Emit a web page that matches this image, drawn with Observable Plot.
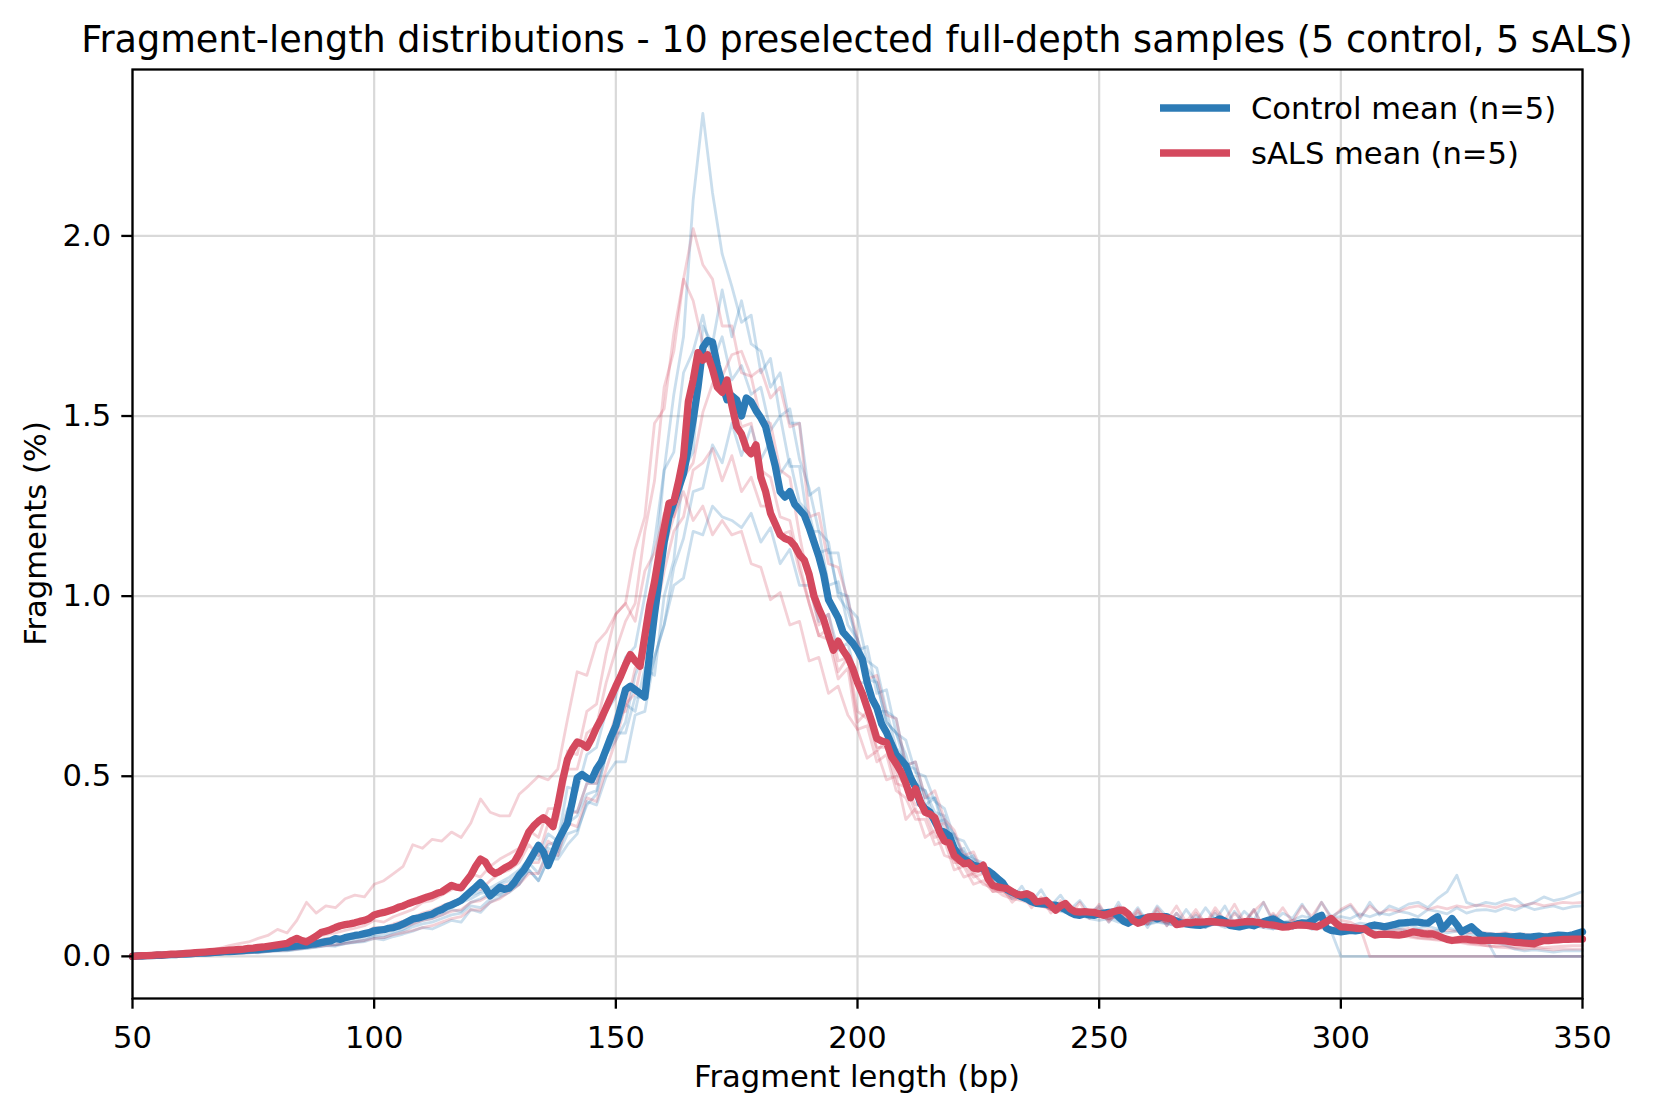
<!DOCTYPE html>
<html><head><meta charset="utf-8">
<script src="https://cdn.jsdelivr.net/npm/d3@7"></script>
<script src="https://cdn.jsdelivr.net/npm/@observablehq/plot@0.6"></script>
<style>
html,body{margin:0;padding:0;background:#fff;}
#chart svg{display:block;}
</style></head><body><div id="chart"></div>
<script>
// ---- Data (fragment length 50..350 bp) ----
// Group means, one value per bp (50..350)
const controlMean = [
0.000,0.001,0.001,0.002,0.002,0.003,0.003,0.004,0.005,0.005,
0.006,0.006,0.007,0.008,0.009,0.009,0.010,0.011,0.012,0.013,
0.013,0.014,0.015,0.016,0.017,0.018,0.019,0.020,0.021,0.022,
0.023,0.025,0.026,0.027,0.029,0.030,0.031,0.034,0.035,0.038,
0.041,0.043,0.049,0.047,0.052,0.055,0.058,0.060,0.063,0.066,
0.071,0.073,0.074,0.078,0.080,0.084,0.090,0.097,0.104,0.106,
0.110,0.114,0.117,0.125,0.130,0.138,0.143,0.149,0.156,0.168,
0.180,0.192,0.205,0.190,0.168,0.180,0.192,0.186,0.190,0.205,
0.225,0.240,0.262,0.285,0.308,0.290,0.252,0.285,0.320,0.345,
0.370,0.430,0.495,0.505,0.495,0.490,0.520,0.540,0.575,0.610,
0.640,0.690,0.740,0.750,0.740,0.730,0.720,0.840,0.950,1.050,
1.150,1.220,1.260,1.300,1.340,1.410,1.490,1.580,1.690,1.710,
1.705,1.640,1.590,1.545,1.556,1.545,1.500,1.550,1.540,1.515,
1.495,1.470,1.414,1.360,1.290,1.275,1.290,1.255,1.240,1.225,
1.190,1.150,1.110,1.060,0.990,0.965,0.940,0.900,0.885,0.870,
0.850,0.825,0.760,0.715,0.690,0.645,0.622,0.590,0.560,0.545,
0.530,0.495,0.470,0.425,0.410,0.400,0.375,0.350,0.345,0.335,
0.300,0.280,0.270,0.262,0.253,0.250,0.243,0.238,0.228,0.216,
0.205,0.185,0.178,0.172,0.165,0.160,0.152,0.147,0.146,0.145,
0.143,0.142,0.136,0.130,0.122,0.116,0.114,0.118,0.115,0.114,
0.118,0.120,0.122,0.123,0.110,0.098,0.092,0.100,0.102,0.105,
0.108,0.110,0.104,0.110,0.110,0.102,0.098,0.092,0.090,0.088,
0.087,0.086,0.090,0.094,0.098,0.104,0.098,0.086,0.084,0.082,
0.085,0.088,0.085,0.090,0.096,0.100,0.104,0.096,0.088,0.087,
0.085,0.090,0.093,0.092,0.098,0.108,0.114,0.078,0.072,0.070,
0.068,0.070,0.072,0.071,0.073,0.078,0.084,0.087,0.085,0.082,
0.085,0.088,0.092,0.093,0.094,0.096,0.095,0.093,0.092,0.102,
0.110,0.076,0.090,0.105,0.088,0.068,0.075,0.082,0.070,0.059,
0.057,0.056,0.055,0.055,0.056,0.054,0.055,0.056,0.054,0.053,
0.055,0.056,0.054,0.055,0.057,0.059,0.058,0.057,0.060,0.064,
0.068];
const salsMean = [
0.000,0.001,0.002,0.002,0.003,0.004,0.004,0.005,0.006,0.006,
0.007,0.008,0.009,0.010,0.011,0.012,0.013,0.014,0.015,0.016,
0.017,0.018,0.019,0.020,0.022,0.023,0.025,0.026,0.028,0.030,
0.032,0.034,0.036,0.044,0.050,0.044,0.040,0.048,0.056,0.066,
0.070,0.074,0.080,0.085,0.088,0.090,0.093,0.097,0.100,0.105,
0.115,0.119,0.122,0.126,0.130,0.136,0.140,0.146,0.151,0.155,
0.160,0.165,0.169,0.175,0.179,0.188,0.197,0.192,0.190,0.208,
0.225,0.250,0.270,0.262,0.240,0.230,0.236,0.245,0.252,0.262,
0.285,0.315,0.345,0.362,0.375,0.385,0.375,0.360,0.420,0.490,
0.547,0.575,0.595,0.590,0.580,0.605,0.635,0.660,0.690,0.720,
0.750,0.778,0.810,0.838,0.820,0.805,0.890,0.975,1.040,1.120,
1.190,1.258,1.262,1.320,1.386,1.540,1.600,1.676,1.655,1.670,
1.630,1.580,1.566,1.600,1.530,1.470,1.450,1.410,1.395,1.420,
1.330,1.290,1.230,1.200,1.170,1.160,1.155,1.140,1.115,1.100,
1.060,1.000,0.965,0.935,0.890,0.850,0.875,0.850,0.830,0.800,
0.760,0.730,0.690,0.650,0.605,0.598,0.594,0.555,0.535,0.512,
0.480,0.440,0.465,0.430,0.400,0.395,0.385,0.345,0.320,0.315,
0.280,0.268,0.257,0.260,0.245,0.243,0.253,0.215,0.197,0.193,
0.190,0.188,0.180,0.172,0.170,0.174,0.168,0.151,0.153,0.155,
0.142,0.128,0.140,0.147,0.132,0.124,0.123,0.124,0.123,0.122,
0.118,0.114,0.118,0.124,0.128,0.128,0.118,0.100,0.092,0.096,
0.108,0.110,0.110,0.110,0.106,0.104,0.088,0.090,0.094,0.093,
0.096,0.095,0.096,0.096,0.096,0.094,0.093,0.092,0.092,0.094,
0.096,0.096,0.096,0.094,0.090,0.088,0.087,0.084,0.081,0.082,
0.085,0.087,0.087,0.086,0.084,0.082,0.088,0.096,0.105,0.092,
0.082,0.081,0.080,0.078,0.077,0.076,0.066,0.059,0.061,0.062,
0.061,0.060,0.059,0.061,0.064,0.068,0.066,0.063,0.062,0.062,
0.058,0.052,0.047,0.044,0.046,0.048,0.048,0.046,0.045,0.044,
0.044,0.045,0.044,0.044,0.043,0.041,0.039,0.038,0.037,0.036,
0.035,0.040,0.044,0.044,0.045,0.046,0.047,0.047,0.048,0.048,
0.048];

// Individual samples, one value every 2 bp (50,52,..,350)
const control1 = [
0.000,0.001,0.002,0.002,0.003,0.004,0.004,0.005,0.006,0.007,
0.008,0.009,0.011,0.010,0.014,0.016,0.015,0.020,0.022,0.026,
0.030,0.028,0.036,0.038,0.041,0.050,0.046,0.055,0.062,0.070,
0.080,0.076,0.088,0.100,0.095,0.130,0.122,0.150,0.165,0.178,
0.200,0.240,0.210,0.270,0.280,0.340,0.350,0.420,0.450,0.560,
0.600,0.650,0.780,0.850,1.050,1.350,1.560,1.720,2.100,2.340,
2.120,1.950,1.860,1.760,1.780,1.620,1.660,1.500,1.520,1.380,
1.300,1.180,1.150,1.000,0.960,0.880,0.800,0.760,0.650,0.620,
0.560,0.470,0.460,0.370,0.380,0.300,0.290,0.240,0.240,0.200,
0.190,0.175,0.160,0.150,0.150,0.135,0.130,0.120,0.125,0.115,
0.110,0.120,0.100,0.095,0.105,0.090,0.098,0.092,0.085,0.095,
0.088,0.080,0.092,0.085,0.078,0.090,0.082,0.088,0.076,0.084,
0.080,0.090,0.075,0.082,0.070,0.000,0.000,0.000,0.000,0.000,
0.000,0.000,0.000,0.000,0.000,0.000,0.000,0.000,0.000,0.000,
0.000,0.000,0.000,0.000,0.000,0.000,0.000,0.000,0.000,0.000,
0.000];
const control2 = [
0.000,0.001,0.002,0.003,0.003,0.004,0.005,0.006,0.007,0.008,
0.010,0.011,0.013,0.012,0.016,0.018,0.020,0.022,0.026,0.030,
0.035,0.032,0.040,0.045,0.050,0.060,0.058,0.068,0.075,0.090,
0.100,0.105,0.115,0.130,0.125,0.150,0.160,0.175,0.170,0.195,
0.220,0.260,0.230,0.300,0.290,0.370,0.390,0.450,0.460,0.560,
0.620,0.700,0.680,0.800,0.780,1.000,1.100,1.350,1.400,1.750,
1.700,1.850,1.720,1.820,1.700,1.680,1.580,1.620,1.480,1.480,
1.280,1.300,1.120,1.120,0.970,0.940,0.820,0.800,0.680,0.660,
0.530,0.540,0.440,0.440,0.370,0.340,0.280,0.270,0.230,0.230,
0.200,0.160,0.195,0.150,0.185,0.140,0.170,0.130,0.155,0.120,
0.140,0.105,0.150,0.100,0.135,0.095,0.140,0.110,0.090,0.130,
0.095,0.135,0.100,0.140,0.090,0.125,0.100,0.150,0.095,0.120,
0.105,0.145,0.100,0.150,0.110,0.125,0.140,0.105,0.150,0.115,
0.140,0.130,0.145,0.150,0.135,0.160,0.180,0.225,0.150,0.140,
0.150,0.145,0.155,0.160,0.140,0.150,0.165,0.155,0.160,0.170,
0.180];
const control3 = [
0.000,0.002,0.002,0.003,0.004,0.005,0.006,0.007,0.008,0.010,
0.012,0.013,0.015,0.017,0.016,0.022,0.024,0.026,0.030,0.034,
0.040,0.042,0.048,0.052,0.058,0.066,0.070,0.078,0.085,0.095,
0.110,0.115,0.128,0.135,0.150,0.160,0.175,0.180,0.200,0.210,
0.230,0.270,0.280,0.340,0.320,0.470,0.460,0.560,0.580,0.680,
0.720,0.830,0.860,1.000,1.150,1.350,1.400,1.620,1.680,1.780,
1.650,1.720,1.600,1.640,1.560,1.580,1.460,1.500,1.360,1.360,
1.180,1.180,1.030,1.040,0.920,0.880,0.770,0.760,0.650,0.620,
0.530,0.520,0.420,0.440,0.340,0.340,0.270,0.280,0.230,0.220,
0.200,0.180,0.170,0.155,0.150,0.140,0.135,0.125,0.130,0.120,
0.130,0.095,0.125,0.090,0.120,0.080,0.125,0.085,0.120,0.090,
0.115,0.080,0.120,0.085,0.125,0.090,0.130,0.080,0.115,0.095,
0.100,0.112,0.105,0.115,0.108,0.110,0.105,0.118,0.110,0.120,
0.115,0.125,0.120,0.110,0.130,0.125,0.118,0.135,0.120,0.128,
0.130,0.125,0.135,0.128,0.140,0.130,0.135,0.140,0.132,0.138,
0.140];
const control4 = [
0.000,0.001,0.001,0.002,0.002,0.003,0.004,0.004,0.005,0.006,
0.008,0.008,0.010,0.011,0.013,0.015,0.016,0.019,0.022,0.025,
0.030,0.032,0.035,0.040,0.044,0.055,0.052,0.062,0.070,0.082,
0.090,0.095,0.105,0.115,0.120,0.140,0.135,0.160,0.175,0.185,
0.200,0.240,0.210,0.270,0.270,0.310,0.340,0.430,0.420,0.500,
0.540,0.540,0.670,0.680,0.830,0.920,1.080,1.160,1.290,1.300,
1.420,1.370,1.480,1.390,1.470,1.380,1.430,1.340,1.380,1.260,
1.230,1.120,1.130,1.010,1.000,0.850,0.860,0.730,0.740,0.620,
0.600,0.510,0.500,0.430,0.410,0.330,0.320,0.270,0.260,0.210,
0.200,0.180,0.165,0.150,0.145,0.130,0.125,0.120,0.115,0.105,
0.100,0.105,0.095,0.092,0.098,0.088,0.095,0.090,0.085,0.092,
0.088,0.082,0.090,0.080,0.086,0.078,0.085,0.080,0.076,0.084,
0.080,0.085,0.078,0.082,0.076,0.080,0.075,0.082,0.070,0.078,
0.072,0.076,0.070,0.074,0.068,0.072,0.065,0.070,0.062,0.060,
0.050,0.000,0.000,0.000,0.000,0.000,0.000,0.000,0.000,0.000,
0.000];
const control5 = [
0.000,0.001,0.002,0.003,0.004,0.005,0.006,0.007,0.008,0.009,
0.010,0.012,0.014,0.016,0.018,0.020,0.024,0.027,0.030,0.035,
0.040,0.044,0.048,0.052,0.058,0.065,0.070,0.076,0.090,0.100,
0.110,0.118,0.125,0.140,0.150,0.170,0.180,0.190,0.205,0.220,
0.240,0.270,0.270,0.310,0.320,0.410,0.400,0.480,0.480,0.560,
0.620,0.620,0.720,0.720,0.830,0.920,1.030,1.050,1.180,1.170,
1.250,1.220,1.210,1.190,1.230,1.150,1.190,1.090,1.130,1.030,
1.030,0.930,0.950,0.850,0.870,0.760,0.760,0.680,0.680,0.580,
0.540,0.480,0.460,0.400,0.390,0.290,0.300,0.240,0.250,0.200,
0.200,0.180,0.175,0.160,0.150,0.140,0.145,0.130,0.125,0.120,
0.110,0.115,0.105,0.100,0.108,0.098,0.105,0.095,0.100,0.092,
0.090,0.098,0.088,0.094,0.085,0.092,0.086,0.090,0.082,0.088,
0.090,0.085,0.092,0.088,0.095,0.090,0.085,0.092,0.088,0.082,
0.085,0.080,0.088,0.078,0.084,0.076,0.080,0.072,0.075,0.065,
0.055,0.040,0.030,0.020,0.015,0.018,0.015,0.012,0.015,0.016,
0.015];
const sals1 = [
0.000,0.001,0.002,0.003,0.004,0.005,0.006,0.007,0.008,0.010,
0.012,0.014,0.016,0.018,0.022,0.025,0.028,0.032,0.038,0.042,
0.050,0.052,0.056,0.062,0.066,0.080,0.078,0.090,0.098,0.108,
0.120,0.128,0.140,0.150,0.160,0.190,0.185,0.210,0.230,0.240,
0.260,0.310,0.280,0.370,0.380,0.520,0.520,0.620,0.640,0.760,
0.850,0.930,0.980,1.180,1.320,1.580,1.680,1.880,2.020,1.920,
1.880,1.750,1.750,1.620,1.610,1.490,1.480,1.350,1.330,1.170,
1.030,0.920,0.950,0.820,0.830,0.680,0.660,0.580,0.580,0.480,
0.470,0.400,0.400,0.330,0.340,0.260,0.260,0.220,0.230,0.180,
0.180,0.165,0.160,0.150,0.140,0.135,0.140,0.125,0.130,0.120,
0.135,0.095,0.130,0.085,0.125,0.090,0.130,0.085,0.120,0.085,
0.120,0.090,0.125,0.085,0.120,0.095,0.130,0.080,0.120,0.085,
0.100,0.092,0.105,0.098,0.110,0.100,0.095,0.080,0.000,0.000,
0.000,0.000,0.000,0.000,0.000,0.000,0.000,0.000,0.000,0.000,
0.000,0.000,0.000,0.000,0.000,0.000,0.000,0.000,0.000,0.000,
0.000];
const sals2 = [
0.000,0.002,0.003,0.004,0.006,0.007,0.008,0.010,0.012,0.014,
0.016,0.018,0.022,0.025,0.030,0.034,0.038,0.045,0.050,0.055,
0.060,0.065,0.072,0.078,0.085,0.100,0.095,0.110,0.120,0.130,
0.150,0.155,0.170,0.185,0.190,0.230,0.220,0.250,0.270,0.285,
0.300,0.350,0.330,0.410,0.410,0.570,0.560,0.680,0.700,0.840,
0.950,0.980,1.130,1.220,1.480,1.520,1.730,1.880,1.820,1.700,
1.650,1.570,1.570,1.470,1.480,1.350,1.330,1.220,1.210,1.090,
0.980,0.890,0.880,0.770,0.800,0.630,0.640,0.540,0.560,0.460,
0.440,0.380,0.380,0.310,0.320,0.240,0.250,0.200,0.210,0.180,
0.190,0.150,0.175,0.135,0.165,0.120,0.155,0.115,0.150,0.105,
0.145,0.100,0.140,0.095,0.130,0.090,0.135,0.100,0.140,0.095,
0.130,0.090,0.135,0.100,0.145,0.095,0.125,0.150,0.100,0.135,
0.095,0.140,0.110,0.150,0.105,0.130,0.145,0.110,0.140,0.120,
0.130,0.125,0.135,0.140,0.130,0.138,0.132,0.140,0.135,0.142,
0.140,0.135,0.145,0.138,0.142,0.148,0.140,0.145,0.150,0.148,
0.150];
const sals3 = [
0.000,0.001,0.001,0.002,0.002,0.003,0.003,0.004,0.005,0.006,
0.008,0.009,0.010,0.012,0.014,0.016,0.018,0.020,0.024,0.027,
0.030,0.032,0.036,0.040,0.044,0.050,0.052,0.060,0.066,0.072,
0.080,0.085,0.095,0.105,0.110,0.130,0.128,0.150,0.160,0.180,
0.200,0.230,0.230,0.290,0.280,0.370,0.360,0.440,0.430,0.520,
0.600,0.700,0.730,0.850,0.920,1.130,1.220,1.330,1.370,1.510,
1.590,1.610,1.670,1.680,1.610,1.630,1.550,1.580,1.470,1.480,
1.220,1.230,1.090,1.080,0.990,0.880,0.770,0.780,0.670,0.660,
0.530,0.540,0.440,0.460,0.380,0.350,0.280,0.290,0.230,0.230,
0.200,0.185,0.175,0.160,0.155,0.140,0.145,0.135,0.130,0.125,
0.120,0.115,0.110,0.118,0.105,0.100,0.110,0.098,0.105,0.095,
0.090,0.098,0.092,0.088,0.095,0.090,0.085,0.092,0.088,0.094,
0.090,0.085,0.092,0.088,0.095,0.090,0.085,0.082,0.080,0.078,
0.075,0.072,0.078,0.070,0.074,0.068,0.072,0.070,0.065,0.068,
0.065,0.062,0.066,0.060,0.062,0.058,0.060,0.062,0.058,0.060,
0.060];
const sals4 = [
0.000,0.001,0.002,0.002,0.003,0.004,0.005,0.006,0.007,0.008,
0.010,0.011,0.013,0.015,0.018,0.020,0.023,0.026,0.030,0.034,
0.040,0.042,0.046,0.052,0.056,0.065,0.068,0.075,0.082,0.090,
0.100,0.105,0.115,0.125,0.130,0.150,0.155,0.170,0.190,0.200,
0.220,0.260,0.260,0.320,0.300,0.400,0.400,0.480,0.480,0.580,
0.670,0.680,0.800,0.830,0.930,1.070,1.180,1.220,1.350,1.370,
1.410,1.320,1.390,1.290,1.330,1.250,1.250,1.170,1.180,1.070,
0.980,0.890,0.910,0.790,0.830,0.650,0.680,0.570,0.600,0.510,
0.470,0.420,0.420,0.360,0.370,0.270,0.280,0.230,0.240,0.190,
0.180,0.170,0.160,0.150,0.145,0.130,0.135,0.128,0.122,0.115,
0.110,0.105,0.112,0.100,0.105,0.098,0.102,0.095,0.100,0.092,
0.090,0.095,0.088,0.092,0.085,0.090,0.086,0.082,0.088,0.084,
0.082,0.086,0.080,0.084,0.078,0.080,0.075,0.070,0.066,0.062,
0.060,0.056,0.058,0.052,0.050,0.048,0.045,0.040,0.038,0.035,
0.030,0.028,0.030,0.026,0.025,0.027,0.024,0.026,0.028,0.030,
0.030];
const sals5 = [
0.000,0.003,0.005,0.006,0.008,0.010,0.012,0.015,0.018,0.022,
0.030,0.035,0.040,0.050,0.058,0.075,0.065,0.100,0.150,0.120,
0.140,0.135,0.160,0.170,0.165,0.200,0.210,0.230,0.250,0.310,
0.300,0.325,0.320,0.345,0.330,0.370,0.437,0.400,0.390,0.390,
0.450,0.474,0.500,0.490,0.520,0.658,0.790,0.780,0.870,0.900,
0.950,0.980,0.930,1.070,1.120,1.230,1.220,1.290,1.210,1.250,
1.170,1.210,1.170,1.180,1.090,1.080,0.990,1.010,0.920,0.930,
0.820,0.830,0.730,0.750,0.670,0.630,0.550,0.570,0.490,0.500,
0.380,0.410,0.330,0.350,0.280,0.270,0.220,0.230,0.200,0.190,
0.170,0.160,0.155,0.145,0.140,0.130,0.135,0.125,0.120,0.115,
0.110,0.105,0.112,0.100,0.108,0.098,0.102,0.095,0.100,0.092,
0.090,0.095,0.088,0.092,0.086,0.090,0.085,0.088,0.082,0.086,
0.085,0.080,0.082,0.078,0.080,0.076,0.072,0.070,0.066,0.062,
0.060,0.056,0.054,0.050,0.048,0.045,0.042,0.040,0.035,0.032,
0.030,0.026,0.024,0.022,0.020,0.022,0.020,0.018,0.020,0.020,
0.020];

const xTicks = [50, 100, 150, 200, 250, 300, 350];
const yTicks = [0.0, 0.5, 1.0, 1.5, 2.0];
const titleText = "Fragment-length distributions - 10 preselected full-depth samples (5 control, 5 sALS)";
const legendLabels = ["Control mean (n=5)", "sALS mean (n=5)"];

// ---- Build tables ----
const bpFine = d3.range(50, 351, 1);
const bpCoarse = d3.range(50, 351, 2);
const BLUE = "#2c7bb6", RED = "#d4495e";
const controlSamples = [control1, control2, control3, control4, control5];
const salsSamples = [sals1, sals2, sals3, sals4, sals5];
const toRows = (arr, prefix) => arr.flatMap((vals, k) => vals.map((v, i) => ({s: prefix + k, bp: bpCoarse[i], v})));
const ctrlRows = toRows(controlSamples, "c");
const salsRows = toRows(salsSamples, "s");
const ctrlMeanRows = controlMean.map((v, i) => ({bp: bpFine[i], v}));
const salsMeanRows = salsMean.map((v, i) => ({bp: bpFine[i], v}));

const W = 1658, H = 1114;
const mL = 132, mR = 76, mT = 69, mB = 116;
const FS = 30.6;
const ff = "'DejaVu Sans', sans-serif";

const plot = Plot.plot({
  width: W, height: H,
  marginTop: mT, marginRight: mR, marginBottom: mB, marginLeft: mL,
  style: {fontFamily: ff, fontSize: FS + "px", background: "#ffffff", color: "#000"},
  x: {domain: [50, 350]},
  y: {domain: [-0.117, 2.462]},
  marks: [
    Plot.gridX(xTicks, {stroke: "#d9d9d9", strokeOpacity: 1, strokeWidth: 2.2}),
    Plot.gridY(yTicks, {stroke: "#d9d9d9", strokeOpacity: 1, strokeWidth: 2.2}),
    Plot.line(ctrlRows, {x: "bp", y: "v", z: "s", stroke: BLUE, strokeWidth: 2.8, strokeOpacity: 0.25}),
    Plot.line(salsRows, {x: "bp", y: "v", z: "s", stroke: RED, strokeWidth: 2.8, strokeOpacity: 0.25}),
    Plot.line(ctrlMeanRows, {x: "bp", y: "v", stroke: BLUE, strokeWidth: 7.3}),
    Plot.line(salsMeanRows, {x: "bp", y: "v", stroke: RED, strokeWidth: 7.3}),
    Plot.frame({stroke: "#000", strokeWidth: 2.3}),
    Plot.axisX(xTicks, {tickSize: 10.7, tickPadding: 17, tickFormat: d => String(d), label: null, strokeWidth: 2.3, fontSize: FS}),
    Plot.axisY(yTicks, {tickSize: 10.7, tickPadding: 10.7, tickFormat: d3.format(".1f"), label: null, strokeWidth: 2.3, fontSize: FS})
  ]
});

const svg = d3.select(plot);
const cx = mL + (W - mL - mR) / 2;
svg.append("text").attr("x", cx).attr("y", 52).attr("text-anchor", "middle")
  .attr("font-family", ff).attr("font-size", 36.6).attr("fill", "#000").text(titleText);
svg.append("text").attr("x", cx).attr("y", 1087).attr("text-anchor", "middle")
  .attr("font-family", ff).attr("font-size", FS).attr("fill", "#000").text("Fragment length (bp)");
svg.append("text").attr("transform", `translate(46,${mT + (H - mT - mB) / 2}) rotate(-90)`)
  .attr("text-anchor", "middle").attr("font-family", ff).attr("font-size", FS).attr("fill", "#000")
  .text("Fragments (%)");
// legend
const legColors = [BLUE, RED];
const legY = [108, 153];
legendLabels.forEach((lab, i) => {
  svg.append("line").attr("x1", 1160).attr("x2", 1230).attr("y1", legY[i]).attr("y2", legY[i])
    .attr("stroke", legColors[i]).attr("stroke-width", 7.3);
  svg.append("text").attr("x", 1251).attr("y", legY[i]).attr("dy", "0.36em").attr("text-anchor", "start")
    .attr("font-family", ff).attr("font-size", FS).attr("fill", "#000").text(lab);
});
document.getElementById("chart").appendChild(plot);
</script></body></html>
